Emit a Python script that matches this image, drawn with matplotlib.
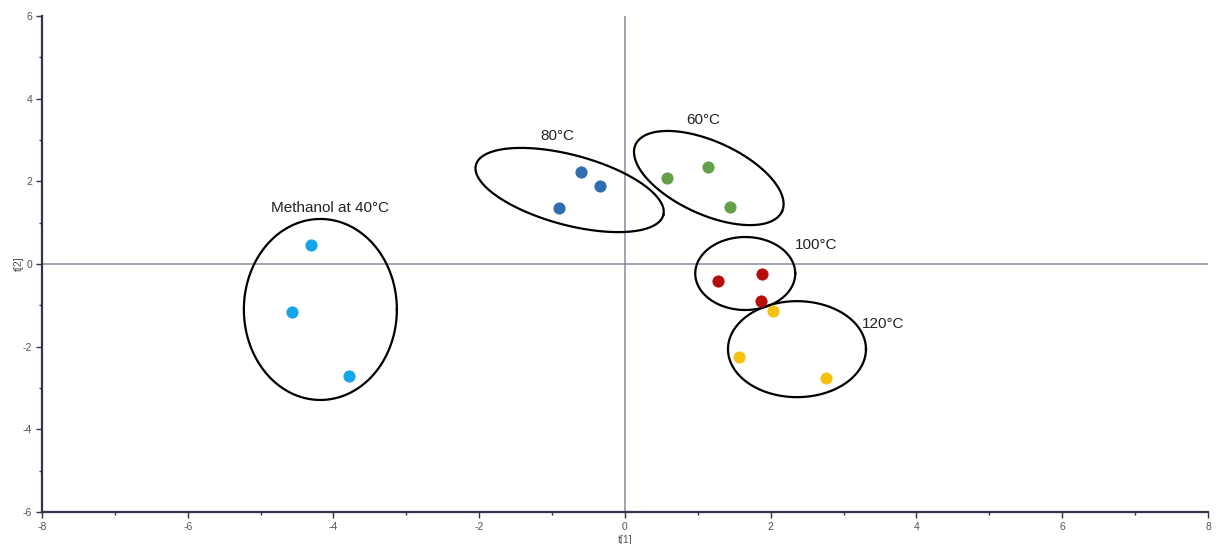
import numpy as np
import matplotlib
matplotlib.use("Agg")
import matplotlib.pyplot as plt
from matplotlib.ticker import MultipleLocator

plt.rcParams['font.family'] = ['Liberation Sans', 'DejaVu Sans']
plt.rcParams['axes.unicode_minus'] = False

# ---- data ----
groups = ["Methanol at 40°C", "80°C", "60°C", "100°C", "120°C"]
colors = ["#13a4ea", "#2f6db0", "#64a04a", "#b50c0c", "#f5c211"]
t1_methanol = [-4.31, -4.57, -3.79]
t2_methanol = [0.46, -1.16, -2.71]
t1_80 = [-0.60, -0.34, -0.905]
t2_80 = [2.23, 1.89, 1.355]
t1_60 = [0.576, 1.14, 1.44]
t2_60 = [2.08, 2.35, 1.38]
t1_100 = [1.28, 1.88, 1.865]
t2_100 = [-0.41, -0.24, -0.895]
t1_120 = [2.03, 1.56, 2.76]
t2_120 = [-1.14, -2.25, -2.76]
t1_all = [t1_methanol, t1_80, t1_60, t1_100, t1_120]
t2_all = [t2_methanol, t2_80, t2_60, t2_100, t2_120]

# group ellipses: centre in data units, size in pixels, screen angle (deg)
ell_cx = [-4.18, -0.76, 1.15, 1.65, 2.36]
ell_cy = [-1.10, 1.79, 2.08, -0.23, -2.06]
ell_w_px = [153, 194, 161, 100, 138]
ell_h_px = [181, 70, 73, 73, 96]
ell_angle = [0, -15, -24.5, 0, 0]

label_x = [-4.05, -0.93, 1.08, 2.62, 3.54]
label_y = [1.35, 3.10, 3.48, 0.46, -1.45]

fig = plt.figure(figsize=(12.17, 5.44), dpi=100)
ax = fig.add_axes([0.0345, 0.0588, 0.9581, 0.9118])
ax.set_xlim(-8, 8)
ax.set_ylim(-6, 6)

# crosshair
ax.axhline(0, color="#8a8aa0", lw=1.1, zorder=1)
ax.axvline(0, color="#8a8aa0", lw=1.1, zorder=1)

for xs, ys, c in zip(t1_all, t2_all, colors):
    ax.scatter(xs, ys, s=66, color=c, edgecolor=c, linewidth=0.6, zorder=3)

fig.canvas.draw()
t = np.linspace(0, 2 * np.pi, 400)
for cx, cy, w, h, ang in zip(ell_cx, ell_cy, ell_w_px, ell_h_px, ell_angle):
    px0, py0 = ax.transData.transform((cx, cy))
    th = np.deg2rad(ang)
    a, b = w / 2, h / 2
    dx = a * np.cos(t) * np.cos(th) - b * np.sin(t) * np.sin(th)
    dy = a * np.cos(t) * np.sin(th) + b * np.sin(t) * np.cos(th)
    pts = ax.transData.inverted().transform(np.column_stack([px0 + dx, py0 + dy]))
    ax.plot(pts[:, 0], pts[:, 1], color="black", lw=1.6, zorder=2)

for g, lx, ly in zip(groups, label_x, label_y):
    ax.text(lx, ly, g, fontsize=11, color="#222222", ha="center", va="center")

# axes styling
for s in ["top", "right"]:
    ax.spines[s].set_visible(False)
for s in ["left", "bottom"]:
    ax.spines[s].set_color("#33334a")
    ax.spines[s].set_linewidth(1.6)
ax.xaxis.set_major_locator(MultipleLocator(2))
ax.xaxis.set_minor_locator(MultipleLocator(1))
ax.yaxis.set_major_locator(MultipleLocator(2))
ax.yaxis.set_minor_locator(MultipleLocator(1))
ax.tick_params(which="both", direction="out", color="#33334a", width=1, labelsize=7.5, labelcolor="#555555")
ax.tick_params(which="major", length=4, pad=3)
ax.tick_params(which="minor", length=2.5)
ax.set_xlabel("t[1]", fontsize=7.5, color="#555555", labelpad=2)
ax.set_ylabel("t[2]", fontsize=7.5, color="#555555", labelpad=-1)

fig.savefig("out.png", dpi=100)
